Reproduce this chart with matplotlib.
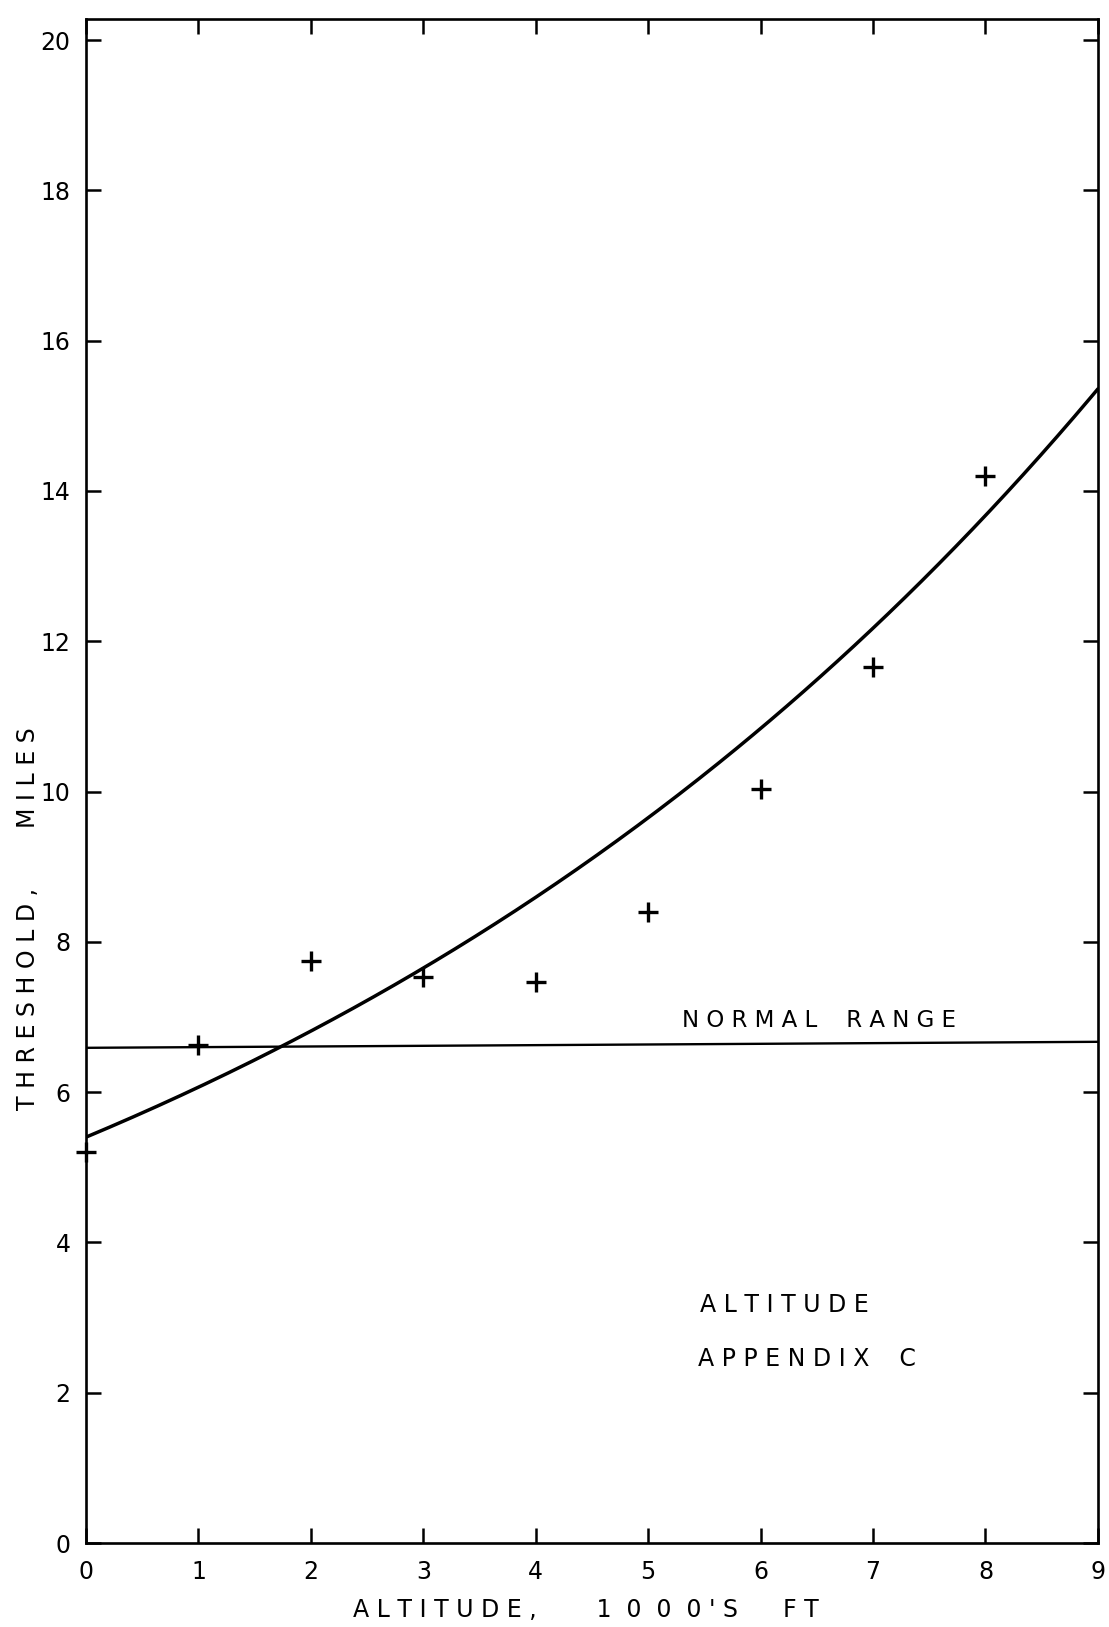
import numpy as np
import matplotlib
matplotlib.use("Agg")
import matplotlib.pyplot as plt

# Measured thresholds at each altitude (1000's ft)
altitude = [0, 1, 2, 3, 4, 5, 6, 7, 8]
threshold = [5.2, 6.63, 7.75, 7.53, 7.47, 8.40, 10.03, 11.66, 14.2]

# Fitted curve, values at whole-thousand altitudes
curve_alt = [0, 1, 2, 3, 4, 5, 6, 7, 8, 9]
curve_thr = [5.40, 6.07, 6.81, 7.65, 8.59, 9.65, 10.84, 12.18, 13.68, 15.35]

# Normal range reference line (end values)
normal_alt = [0, 9]
normal_thr = [6.59, 6.67]

x_ticks = [0, 1, 2, 3, 4, 5, 6, 7, 8, 9]
x_ticklabels = ["0", "1", "2", "3", "4", "5", "6", "7", "8", "9"]
y_ticks = [0, 2, 4, 6, 8, 10, 12, 14, 16, 18, 20]
y_ticklabels = ["0", "2", "4", "6", "8", "10", "12", "14", "16", "18", "20"]

plt.rcParams["font.family"] = ["DejaVu Sans"]

fig = plt.figure(figsize=(11.09, 16.27), dpi=100)
ax = fig.add_axes([0.0775, 0.0516, 0.9125, 0.9367])

# smooth curve through the fitted values
ca = np.array(curve_alt, dtype=float)
ct = np.array(curve_thr, dtype=float)
coef = np.polyfit(ca, np.log(ct), 2)
xs = np.linspace(ca.min(), ca.max(), 300)
ax.plot(xs, np.exp(np.polyval(coef, xs)), color="black", lw=2.5, solid_capstyle="round")

ax.plot(normal_alt, normal_thr, color="black", lw=1.7)

ax.plot(altitude, threshold, linestyle="none", marker="+", markersize=15,
        markeredgewidth=2.4, color="black", clip_on=False)

ax.set_xlim(0, 9)
ax.set_ylim(0, 20.28)

ax.set_xticks(x_ticks)
ax.set_xticklabels(x_ticklabels)
ax.set_yticks(y_ticks)
ax.set_yticklabels(y_ticklabels)

ax.tick_params(axis="both", which="major", direction="in", length=11, width=1.8,
               top=True, right=True, labelsize=17, color="black")
ax.tick_params(axis="x", pad=12)
ax.tick_params(axis="y", pad=11)

for s in ax.spines.values():
    s.set_linewidth(1.9)
    s.set_color("black")

ax.set_xlabel("A L T I T U D E ,        1  0  0  0 ' S      F T", fontsize=17)
ax.xaxis.label.set_verticalalignment("center")
ax.xaxis.set_label_coords(0.494, -0.044)
ax.set_ylabel("T H R E S H O L D ,        M I L E S", fontsize=17)
ax.yaxis.label.set_verticalalignment("center")
ax.yaxis.set_label_coords(-0.057, 0.41)

ax.text(5.3, 6.96, "N O R M A L    R A N G E", fontsize=16.5, va="center", ha="left")
ax.text(5.46, 3.17, "A L T I T U D E", fontsize=17, va="center", ha="left")
ax.text(5.44, 2.45, "A P P E N D I X    C", fontsize=17, va="center", ha="left")

fig.savefig("out.png", dpi=100, facecolor="white")
